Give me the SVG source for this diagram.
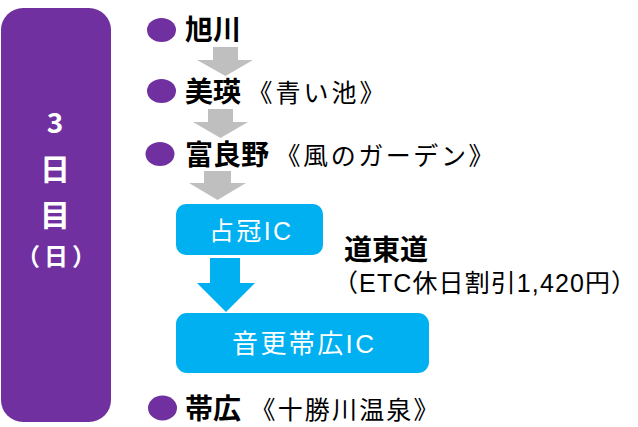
<svg xmlns="http://www.w3.org/2000/svg" width="638" height="427" viewBox="0 0 638 427">
<style>
.jp{font-family:"Noto Sans CJK JP","Noto Sans",sans-serif}
.mx{font-family:"Liberation Sans","Noto Sans CJK JP",sans-serif}
.b{font-weight:bold;fill:#000;font-size:28px}
.r{font-weight:normal;fill:#000;font-size:25px}
.w{fill:#fff}
.dot{fill:#7030A0}
.ga{fill:#BFBFBF}
.ba{fill:#00B0F0}
</style>
<g id="day">
<rect x="1" y="8" width="110" height="414" rx="22" fill="#7030A0"/>
<text class="jp w" x="55" y="133" font-size="28" font-weight="bold" text-anchor="middle">3</text>
<text class="jp w" x="55" y="180" font-size="30" font-weight="bold" text-anchor="middle">日</text>
<text class="jp w" x="55" y="226" font-size="30" font-weight="bold" text-anchor="middle">目</text>
<text class="jp w" x="56" y="265" font-size="24" font-weight="bold" text-anchor="middle">（<tspan dx="4">日</tspan><tspan dx="4">）</tspan></text>
</g>
<g id="asahikawa">
<ellipse class="dot" cx="161.5" cy="30" rx="14.5" ry="12"/>
<text class="jp b" x="185" y="40">旭川</text>
</g>
<g id="biei">
<ellipse class="dot" cx="161.5" cy="91" rx="14.5" ry="12"/>
<text class="jp b" x="185" y="102">美瑛</text>
<text class="jp r" x="247.5" y="102" textLength="137" lengthAdjust="spacing">《青い池》</text>
</g>
<g id="furano">
<ellipse class="dot" cx="160" cy="154" rx="14.5" ry="12"/>
<text class="jp b" x="185" y="165">富良野</text>
<text class="jp r" x="275.5" y="165" textLength="218" lengthAdjust="spacing">《風のガーデン》</text>
</g>
<g id="shimukappu">
<rect class="ba" x="176" y="204" width="147" height="51" rx="10"/>
<text class="mx w" x="209" y="240" font-size="25" textLength="82" lengthAdjust="spacing">占冠IC</text>
</g>
<g id="otofuke">
<rect class="ba" x="176" y="313" width="253" height="60" rx="11"/>
<text class="mx w" x="232" y="353" font-size="26" textLength="142" lengthAdjust="spacing">音更帯広IC</text>
</g>
<g id="doutou">
<text class="jp b" x="344" y="260">道東道</text>
<text class="mx r" x="333" y="292" font-size="22" textLength="303" lengthAdjust="spacing">（ETC休日割引1,420円）</text>
</g>
<g id="obihiro">
<ellipse class="dot" cx="162.5" cy="408" rx="14.5" ry="12.5"/>
<text class="jp b" x="185" y="419">帯広</text>
<text class="jp r" x="250.5" y="419" textLength="188" lengthAdjust="spacing">《十勝川温泉》</text>
</g>
<g id="connectors">
<polygon class="ga" points="213,47 238,47 238,60 253,60 225.5,76 197,60 213,60"/>
<polygon class="ga" points="208,109 233,109 233,122 248,122 220.5,138 193,122 208,122"/>
<polygon class="ga" points="204,171 231,171 231,183 246,183 217.5,200 189,183 204,183"/>
<polygon class="ba" points="210,258 240,258 240,283 255,283 226,312 197,283 210,283"/>
</g>
</svg>
